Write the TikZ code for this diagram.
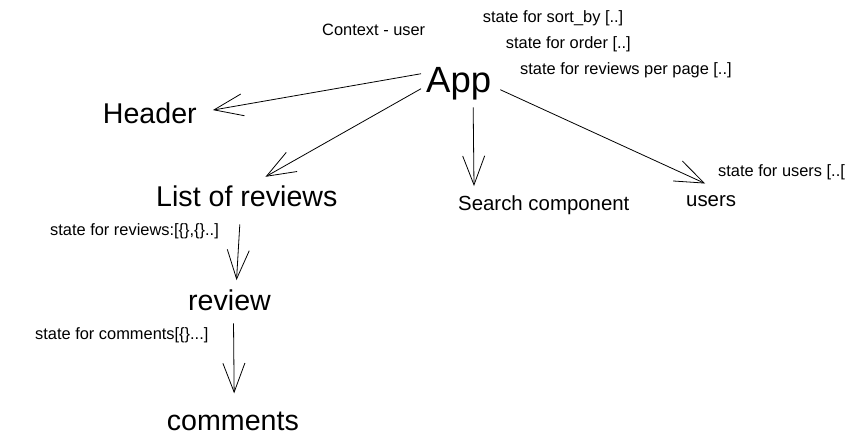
\documentclass[tikz,border=0pt]{standalone}
\usepackage{fontspec}
\setmainfont{Liberation Sans}
\usetikzlibrary{arrows.meta}

\begin{document}
\begin{tikzpicture}[x=1pt, y=-1pt,
    lbl/.style={anchor=base west, inner sep=0pt},
    small/.style={lbl, font=\fontsize{16.4}{18}\selectfont},
    mid/.style={lbl, font=\fontsize{20.4}{22}\selectfont},
    big/.style={lbl, font=\fontsize{28.6}{30}\selectfont},
    arr/.style={-{Straight Barb[length=29pt, width=22pt]}, line width=0.8pt}]

        \useasboundingbox (0,0) rectangle (865,447);

        % Components
        \node[lbl, font=\fontsize{36.5}{38}\selectfont] (app) at (426, 92) {App};
        \node[big] (header) at (102.7, 123) {Header};
        \node[big] (list) at (156, 206) {List of reviews};
        \node[mid] (search) at (458, 210) {Search component};
        \node[mid] (users) at (686, 206.7) {users};
        \node[big] (review) at (188, 310) {review};
        \node[big] (comments) at (166.7, 430) {comments};

        % State notes
        \node[small] (ctx) at (322, 35) {Context - user};
        \node[small] (sortby) at (482.7, 22) {state for sort\_by [..]};
        \node[small] (order) at (505.7, 48.3) {state for order [..]};
        \node[small] (perpage) at (520, 74) {state for reviews per page [..]};
        \node[small] (usersstate) at (718, 176) {state for users [..[};
        \node[small] (reviewsstate) at (50, 235) {state for reviews:[\{\},\{\}..]};
        \node[small] (commentsstate) at (35, 339) {state for comments[\{\}...]};

        % Arrows
        \draw[arr] ([shift={(-5,-9.5)}]app.west) -- ([shift={(16,-2.7)}]header.east);
        \draw[arr] ([shift={(-5,5.5)}]app.west) -- ([shift={(18.7,-8.3)}]list.north);
        \draw[arr] ([shift={(14.5,7.6)}]app.south) -- ([shift={(16,-9)}]search.north west);
        \draw[arr] ([shift={(9,6.5)}]app.east) -- ([shift={(-6,-12)}]users.north);
        \draw[arr] ([shift={(-7,18)}]list.south) -- ([shift={(7,-9)}]review.north);
        \draw[arr] ([shift={(4,13)}]review.south) -- ([shift={(1.3,-18)}]comments.north);

    \end{tikzpicture}
\end{document}
